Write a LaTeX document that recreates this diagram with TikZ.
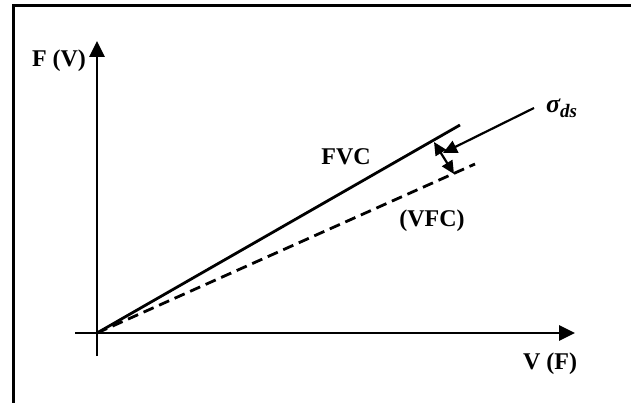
\documentclass[tikz,border=0pt]{standalone}
\usepackage{fontspec}
\setmainfont{Liberation Serif}
\usetikzlibrary{arrows.meta}
\begin{document}
\begin{tikzpicture}[x=1pt,y=-1pt,
  lbl/.style={font=\fontsize{24}{28}\selectfont\bfseries, inner sep=0pt},
  axis/.style={line width=2.8pt,-{Triangle[length=16pt,width=15pt]}},
  thick line/.style={line width=2.8pt},
  dashline/.style={line width=2.8pt,dash pattern=on 11pt off 6pt},
  tip/.style={-{Triangle[length=14pt,width=13pt]},line width=2.2pt}]
\useasboundingbox (0,0) rectangle (631,403);
% frame
\draw[line width=3pt] (13,403) -- (13,6) -- (631,6);
% axes
\coordinate (O) at (97,333);
\coordinate (ybot) at (97,356);
\coordinate (ytop) at (97,41);
\coordinate (xl) at (75,333);
\coordinate (xr) at (575,333);
\draw[axis] (ybot) -- (ytop);
\draw[axis] (xl) -- (xr);
% lines
\coordinate (S) at (460,125);
\coordinate (D) at (475,164);
\draw[thick line] (O) -- (S);
\draw[dashline] (O) -- (D);
% labels
\node[lbl] (fv) at (59,61) {F (V)};
\node[lbl] (vf) at (550,364) {V (F)};
\node[lbl] (fvc) at (346,157) {FVC};
\node[lbl] (vfc) at (432,221) {(VFC)};
\node[inner sep=0pt, anchor=west] (sig) at (546,108) {\fontsize{26}{30}\selectfont\bfseries\itshape σ\raisebox{-5pt}{\fontsize{19}{22}\selectfont ds}};
% sigma pointer
\coordinate (p1) at (534,108);
\coordinate (p2) at (443,153);
\draw[tip] (p1) -- (p2);
% double arrow
\coordinate (a1) at (434,142);
\coordinate (a2) at (454,174);
\draw[{Triangle[length=13pt,width=12pt]}-{Triangle[length=13pt,width=12pt]},line width=2.2pt] (a1) -- (a2);
\end{tikzpicture}
\end{document}
